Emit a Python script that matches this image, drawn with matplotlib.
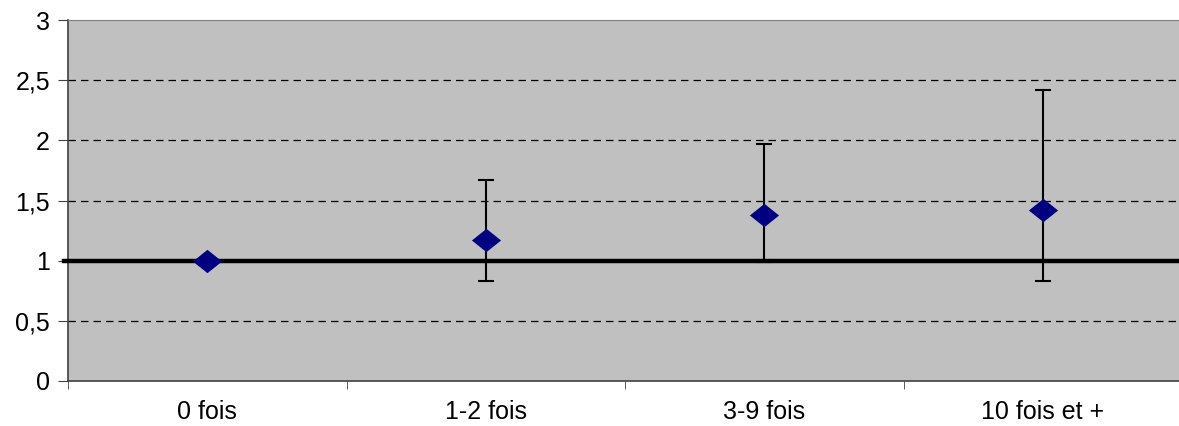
import numpy as np
import matplotlib.pyplot as plt
from matplotlib.path import Path

plt.rcParams['font.family'] = ['Liberation Sans', 'DejaVu Sans']
plt.rcParams['font.size'] = 18

# --- data ---
categories = ['0 fois', '1-2 fois', '3-9 fois', '10 fois et +']
values = [1.0, 1.17, 1.38, 1.42]
lower = [1.0, 0.83, 0.99, 0.83]
upper = [1.0, 1.67, 1.97, 2.42]
reference = 1.0
y_ticks = [0, 0.5, 1, 1.5, 2, 2.5, 3]
y_labels = ['0', '0,5', '1', '1,5', '2', '2,5', '3']

x = np.arange(len(categories))
yerr = [np.array(values) - np.array(lower), np.array(upper) - np.array(values)]

fig = plt.figure(figsize=(11.79, 4.26), dpi=100)
ax = fig.add_axes([68 / 1179, 45 / 426, 1114 / 1179, 361 / 426])
ax.set_facecolor('#C0C0C0')

for yv in y_ticks[1:-1]:
    ax.axhline(yv, color='black', lw=0.9, ls=(0, (6, 4)), zorder=1)

# reference line, runs a little past the left axis like the original
ax.plot([-0.515, len(categories) - 0.5], [reference, reference], color='black',
        lw=3.2, zorder=3, clip_on=False)

ax.errorbar(x, values, yerr=yerr, fmt='none', ecolor='black', elinewidth=1.5,
            capsize=5.5, capthick=1.5, zorder=4)

diamond = Path([(-1, 0), (0, 0.8), (1, 0), (0, -0.8), (-1, 0)],
               [Path.MOVETO, Path.LINETO, Path.LINETO, Path.LINETO, Path.CLOSEPOLY])
ax.plot(x, values, linestyle='none', marker=diamond, markersize=21,
        color='#000080', markeredgewidth=0, zorder=5)

ax.set_xlim(-0.5, len(categories) - 0.5)
ax.set_ylim(0, 3)
ax.set_yticks(y_ticks)
ax.set_yticklabels(y_labels)
ax.set_xticks(x)
ax.set_xticklabels(categories)
ax.set_xticks(np.arange(len(categories) + 1) - 0.5, minor=True)
ax.tick_params(axis='x', which='major', length=0, pad=14)
ax.tick_params(axis='x', which='minor', length=6, color='#404040')
ax.tick_params(axis='y', length=7, color='#404040', pad=6)

ax.spines['right'].set_visible(False)
ax.spines['top'].set_color('#808080')
ax.spines['left'].set_color('#404040')
ax.spines['bottom'].set_color('#404040')
ax.spines['left'].set_linewidth(1.2)
ax.spines['bottom'].set_linewidth(1.2)

fig.savefig('out.png', dpi=100)
